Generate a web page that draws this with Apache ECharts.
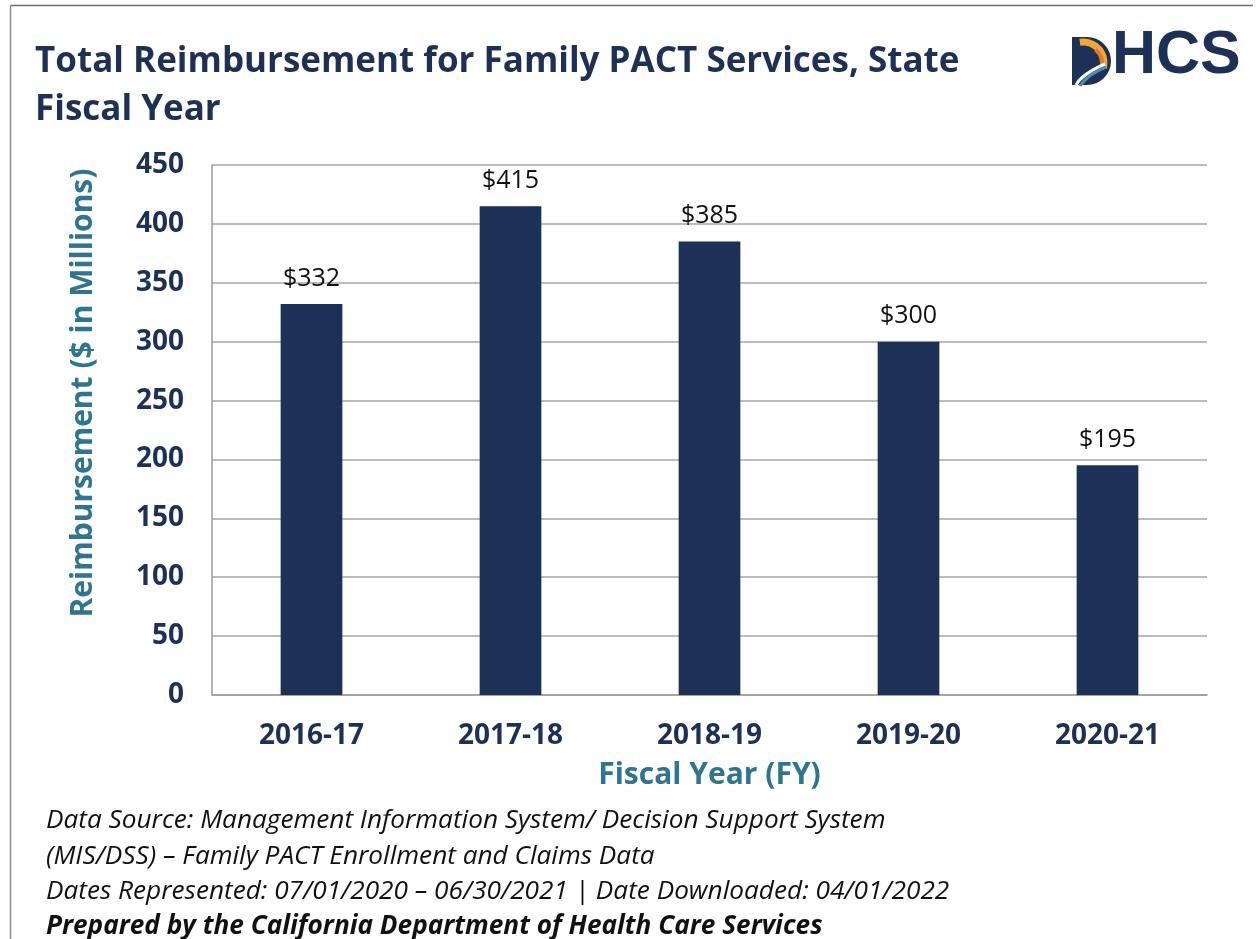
<!DOCTYPE html>
<html>
<head>
<meta charset="utf-8">
<script src="https://cdn.jsdelivr.net/npm/echarts@6/dist/echarts.min.js"></script>
<style>
html,body{margin:0;padding:0;background:#fff;}
#chart{width:1257px;height:939px;}
</style>
</head>
<body>
<div id="chart"></div>
<script>
const categories = ['2016-17', '2017-18', '2018-19', '2019-20', '2020-21'];
const reimbursement = [332, 415, 385, 300, 195];
const yTicks = [0, 50, 100, 150, 200, 250, 300, 350, 400, 450];
const titleLines = ['Total Reimbursement for Family PACT Services, State', 'Fiscal Year'];
const footnotes = [
  'Data Source: Management Information System/ Decision Support System',
  '(MIS/DSS) \u2013 Family PACT Enrollment and Claims Data',
  'Dates Represented: 07/01/2020 \u2013 06/30/2021 | Date Downloaded: 04/01/2022',
  'Prepared by the California Department of Health Care Services'
];

const NAVY = '#1b3157';
const TEAL = '#2e7592';
const FONT = '"Open Sans", "Noto Sans", sans-serif';

const chart = echarts.init(document.getElementById('chart'), null, {renderer: 'canvas'});

const footGraphics = footnotes.map((t, i) => ({
  type: 'text',
  left: 46,
  top: 808 + i * 35.3,
  style: {
    text: t,
    font: (i === 3 ? 'italic bold ' : 'italic ') + '26.2px ' + FONT,
    fill: '#111111'
  }
}));

const logo = [
  {type: 'rect', shape: {x: 1072, y: 37, width: 16, height: 48}, style: {fill: NAVY}},
  {type: 'sector', shape: {cx: 1087, cy: 61, r: 24, r0: 0, startAngle: -Math.PI / 2, endAngle: Math.PI / 2}, style: {fill: NAVY}},
  {type: 'arc', shape: {cx: 1083, cy: 63, r: 21, startAngle: -Math.PI / 2 - 0.15, endAngle: 0.25}, style: {stroke: '#f2a933', lineWidth: 7, fill: null}},
  {type: 'arc', shape: {cx: 1085, cy: 63, r: 17, startAngle: -0.9, endAngle: 0.35}, style: {stroke: '#e07a2c', lineWidth: 4, fill: null}},
  {type: 'bezierCurve', shape: {x1: 1076, y1: 85, cpx1: 1082, cpy1: 74, x2: 1105, y2: 64}, style: {stroke: '#ffffff', lineWidth: 3, fill: null}},
  {type: 'bezierCurve', shape: {x1: 1080, y1: 86, cpx1: 1088, cpy1: 74, x2: 1106, y2: 67}, style: {stroke: '#4b8fb0', lineWidth: 3, fill: null}},
  {type: 'text', left: 1112, top: 26, style: {text: 'HCS', font: 'bold 61px "Liberation Sans", Arial, sans-serif', fill: NAVY}}
];

chart.setOption({
  animation: false,
  backgroundColor: '#ffffff',
  title: {
    text: titleLines.join('\n'),
    left: 35,
    top: 38,
    padding: 0,
    textStyle: {
      color: NAVY,
      fontFamily: FONT,
      fontWeight: 'bold',
      fontSize: 35,
      lineHeight: 48
    }
  },
  grid: {left: 212, right: 50, top: 165, bottom: 244, containLabel: false},
  xAxis: {
    type: 'category',
    data: categories,
    name: 'Fiscal Year (FY)',
    nameLocation: 'middle',
    nameGap: 65,
    nameTextStyle: {color: TEAL, fontFamily: FONT, fontWeight: 'bold', fontSize: 30},
    axisLine: {show: true, lineStyle: {color: '#9a9a9a', width: 1.5}},
    axisTick: {show: false},
    axisLabel: {color: NAVY, fontFamily: FONT, fontWeight: 'bold', fontSize: 28, margin: 27}
  },
  yAxis: {
    type: 'value',
    min: yTicks[0],
    max: yTicks[yTicks.length - 1],
    interval: yTicks[1] - yTicks[0],
    name: 'Reimbursement ($ in Millions)',
    nameLocation: 'middle',
    nameGap: 114,
    nameTextStyle: {color: TEAL, fontFamily: FONT, fontWeight: 'bold', fontSize: 30, padding: [0, 0, 0, 74]},
    axisLine: {show: true, lineStyle: {color: '#9a9a9a', width: 1.5}},
    axisTick: {show: false},
    axisLabel: {color: NAVY, fontFamily: FONT, fontWeight: 'bold', fontSize: 28, margin: 28},
    splitLine: {show: true, lineStyle: {color: '#a6a6a6', width: 1.5}}
  },
  series: [{
    type: 'bar',
    data: reimbursement,
    barWidth: '31%',
    itemStyle: {color: NAVY},
    label: {
      show: true,
      position: 'top',
      distance: 13,
      formatter: p => '$' + p.value,
      color: '#111111',
      fontFamily: FONT,
      fontSize: 25
    }
  }],
  graphic: [
    {type: 'line', shape: {x1: 10.5, y1: 5.5, x2: 1253, y2: 5.5}, style: {stroke: '#6e6e6e', lineWidth: 1.5}},
    {type: 'line', shape: {x1: 10.5, y1: 5.5, x2: 10.5, y2: 939}, style: {stroke: '#8a8a8a', lineWidth: 1.5}}
  ].concat(logo, footGraphics)
});
</script>
</body>
</html>
